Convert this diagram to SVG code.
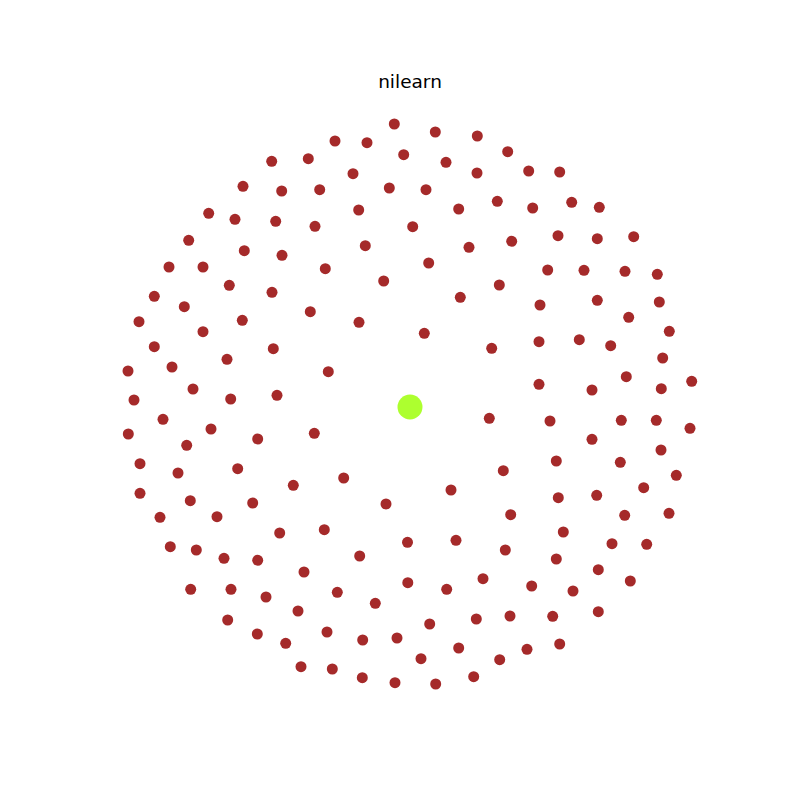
<svg xmlns="http://www.w3.org/2000/svg" width="800" height="800" viewBox="0 0 800 800">
<style>
.n{fill:#a52a2a}
.c{fill:#adff2f}
.t{font-family:"DejaVu Sans",sans-serif;font-size:18.5px;fill:#000}
</style>
<rect width="800" height="800" fill="#fff"/>
<text class="t" x="410" y="88" text-anchor="middle">nilearn</text>
<g id="connectors"></g>
<g id="nodes">
<g id="center"><circle class="c" cx="410" cy="407" r="12.5"/></g>
<g id="leaves">
<circle class="n" cx="394.3" cy="124" r="5.5"/>
<circle class="n" cx="335" cy="141" r="5.5"/>
<circle class="n" cx="367" cy="142.7" r="5.5"/>
<circle class="n" cx="403.7" cy="154.7" r="5.5"/>
<circle class="n" cx="271.7" cy="161.3" r="5.5"/>
<circle class="n" cx="308.3" cy="158.7" r="5.5"/>
<circle class="n" cx="353" cy="173.7" r="5.5"/>
<circle class="n" cx="243" cy="186.3" r="5.5"/>
<circle class="n" cx="281.7" cy="191" r="5.5"/>
<circle class="n" cx="319.7" cy="189.7" r="5.5"/>
<circle class="n" cx="389.3" cy="188" r="5.5"/>
<circle class="n" cx="208.7" cy="213.3" r="5.5"/>
<circle class="n" cx="235" cy="219.3" r="5.5"/>
<circle class="n" cx="275.7" cy="221.3" r="5.5"/>
<circle class="n" cx="315" cy="226.3" r="5.5"/>
<circle class="n" cx="358.7" cy="210" r="5.5"/>
<circle class="n" cx="412.7" cy="226.7" r="5.5"/>
<circle class="n" cx="188.7" cy="240.3" r="5.5"/>
<circle class="n" cx="244.3" cy="250.7" r="5.5"/>
<circle class="n" cx="282" cy="255.3" r="5.5"/>
<circle class="n" cx="365.3" cy="245.7" r="5.5"/>
<circle class="n" cx="169" cy="267" r="5.5"/>
<circle class="n" cx="203" cy="267" r="5.5"/>
<circle class="n" cx="325.3" cy="268.7" r="5.5"/>
<circle class="n" cx="229.3" cy="285.3" r="5.5"/>
<circle class="n" cx="272" cy="292.3" r="5.5"/>
<circle class="n" cx="383.7" cy="281" r="5.5"/>
<circle class="n" cx="154.3" cy="296.3" r="5.5"/>
<circle class="n" cx="184.3" cy="306.7" r="5.5"/>
<circle class="n" cx="310.3" cy="311.7" r="5.5"/>
<circle class="n" cx="139" cy="321.7" r="5.5"/>
<circle class="n" cx="242.3" cy="320.3" r="5.5"/>
<circle class="n" cx="359" cy="322.3" r="5.5"/>
<circle class="n" cx="203" cy="331.7" r="5.5"/>
<circle class="n" cx="154.3" cy="346.7" r="5.5"/>
<circle class="n" cx="273.3" cy="348.7" r="5.5"/>
<circle class="n" cx="227" cy="359.3" r="5.5"/>
<circle class="n" cx="128" cy="371" r="5.5"/>
<circle class="n" cx="172" cy="367" r="5.5"/>
<circle class="n" cx="328.3" cy="371.7" r="5.5"/>
<circle class="n" cx="193" cy="389" r="5.5"/>
<circle class="n" cx="134" cy="400" r="5.5"/>
<circle class="n" cx="230.7" cy="399" r="5.5"/>
<circle class="n" cx="277" cy="395.3" r="5.5"/>
<circle class="n" cx="435.3" cy="132" r="5.5"/>
<circle class="n" cx="477.3" cy="136" r="5.5"/>
<circle class="n" cx="446" cy="162.3" r="5.5"/>
<circle class="n" cx="477" cy="173" r="5.5"/>
<circle class="n" cx="507.7" cy="151.7" r="5.5"/>
<circle class="n" cx="528.7" cy="171" r="5.5"/>
<circle class="n" cx="559.7" cy="172" r="5.5"/>
<circle class="n" cx="426" cy="189.7" r="5.5"/>
<circle class="n" cx="458.7" cy="209" r="5.5"/>
<circle class="n" cx="497.3" cy="201.3" r="5.5"/>
<circle class="n" cx="532.7" cy="208" r="5.5"/>
<circle class="n" cx="571.7" cy="202.3" r="5.5"/>
<circle class="n" cx="599.3" cy="207.3" r="5.5"/>
<circle class="n" cx="469" cy="247.3" r="5.5"/>
<circle class="n" cx="511.7" cy="241.3" r="5.5"/>
<circle class="n" cx="558" cy="235.7" r="5.5"/>
<circle class="n" cx="597.3" cy="238.7" r="5.5"/>
<circle class="n" cx="633.7" cy="236.7" r="5.5"/>
<circle class="n" cx="428.7" cy="263" r="5.5"/>
<circle class="n" cx="547.7" cy="270" r="5.5"/>
<circle class="n" cx="584" cy="270.3" r="5.5"/>
<circle class="n" cx="625" cy="271.3" r="5.5"/>
<circle class="n" cx="657.3" cy="274.3" r="5.5"/>
<circle class="n" cx="499.3" cy="285" r="5.5"/>
<circle class="n" cx="460.3" cy="297.3" r="5.5"/>
<circle class="n" cx="540" cy="305" r="5.5"/>
<circle class="n" cx="597.3" cy="300.3" r="5.5"/>
<circle class="n" cx="659.3" cy="302" r="5.5"/>
<circle class="n" cx="628.7" cy="317.3" r="5.5"/>
<circle class="n" cx="669.3" cy="331.3" r="5.5"/>
<circle class="n" cx="424.3" cy="333.3" r="5.5"/>
<circle class="n" cx="491.7" cy="348.3" r="5.5"/>
<circle class="n" cx="539" cy="341.7" r="5.5"/>
<circle class="n" cx="579.3" cy="339.7" r="5.5"/>
<circle class="n" cx="610.7" cy="345.7" r="5.5"/>
<circle class="n" cx="662.7" cy="358" r="5.5"/>
<circle class="n" cx="539" cy="384.3" r="5.5"/>
<circle class="n" cx="592" cy="390" r="5.5"/>
<circle class="n" cx="626.3" cy="376.7" r="5.5"/>
<circle class="n" cx="661.3" cy="388.7" r="5.5"/>
<circle class="n" cx="691.7" cy="381.3" r="5.5"/>
<circle class="n" cx="163" cy="419.3" r="5.5"/>
<circle class="n" cx="128.3" cy="434" r="5.5"/>
<circle class="n" cx="211" cy="429" r="5.5"/>
<circle class="n" cx="186.7" cy="445.3" r="5.5"/>
<circle class="n" cx="257.7" cy="439" r="5.5"/>
<circle class="n" cx="314.3" cy="433.3" r="5.5"/>
<circle class="n" cx="140" cy="463.7" r="5.5"/>
<circle class="n" cx="178" cy="473" r="5.5"/>
<circle class="n" cx="237.7" cy="468.7" r="5.5"/>
<circle class="n" cx="293.3" cy="485.3" r="5.5"/>
<circle class="n" cx="343.7" cy="478" r="5.5"/>
<circle class="n" cx="140" cy="493.3" r="5.5"/>
<circle class="n" cx="190.3" cy="500.7" r="5.5"/>
<circle class="n" cx="252.7" cy="503" r="5.5"/>
<circle class="n" cx="386" cy="504" r="5.5"/>
<circle class="n" cx="160" cy="517.3" r="5.5"/>
<circle class="n" cx="217" cy="516.7" r="5.5"/>
<circle class="n" cx="279.7" cy="533" r="5.5"/>
<circle class="n" cx="324.3" cy="529.7" r="5.5"/>
<circle class="n" cx="407.5" cy="542.3" r="5.5"/>
<circle class="n" cx="170.3" cy="546.7" r="5.5"/>
<circle class="n" cx="196.3" cy="550" r="5.5"/>
<circle class="n" cx="224" cy="558.3" r="5.5"/>
<circle class="n" cx="257.7" cy="560.3" r="5.5"/>
<circle class="n" cx="359.7" cy="556" r="5.5"/>
<circle class="n" cx="304" cy="572" r="5.5"/>
<circle class="n" cx="407.8" cy="582.7" r="5.5"/>
<circle class="n" cx="190.7" cy="589.3" r="5.5"/>
<circle class="n" cx="231" cy="589.3" r="5.5"/>
<circle class="n" cx="266" cy="597" r="5.5"/>
<circle class="n" cx="337.3" cy="592.3" r="5.5"/>
<circle class="n" cx="298" cy="611" r="5.5"/>
<circle class="n" cx="375.3" cy="603.3" r="5.5"/>
<circle class="n" cx="227.7" cy="620" r="5.5"/>
<circle class="n" cx="257.3" cy="634" r="5.5"/>
<circle class="n" cx="285.7" cy="643.3" r="5.5"/>
<circle class="n" cx="327" cy="632" r="5.5"/>
<circle class="n" cx="362.7" cy="640" r="5.5"/>
<circle class="n" cx="397" cy="638" r="5.5"/>
<circle class="n" cx="301" cy="666.7" r="5.5"/>
<circle class="n" cx="332.3" cy="669" r="5.5"/>
<circle class="n" cx="362.3" cy="677.7" r="5.5"/>
<circle class="n" cx="395" cy="682.7" r="5.5"/>
<circle class="n" cx="489.3" cy="418.3" r="5.5"/>
<circle class="n" cx="550" cy="421" r="5.5"/>
<circle class="n" cx="621.3" cy="420.3" r="5.5"/>
<circle class="n" cx="656.3" cy="420.3" r="5.5"/>
<circle class="n" cx="690" cy="428.3" r="5.5"/>
<circle class="n" cx="592" cy="439.3" r="5.5"/>
<circle class="n" cx="661" cy="450" r="5.5"/>
<circle class="n" cx="556.3" cy="461" r="5.5"/>
<circle class="n" cx="620.3" cy="462.3" r="5.5"/>
<circle class="n" cx="503.3" cy="470.7" r="5.5"/>
<circle class="n" cx="676.3" cy="475.3" r="5.5"/>
<circle class="n" cx="451" cy="490" r="5.5"/>
<circle class="n" cx="558.3" cy="497.7" r="5.5"/>
<circle class="n" cx="596.7" cy="495.3" r="5.5"/>
<circle class="n" cx="643.7" cy="487.7" r="5.5"/>
<circle class="n" cx="510.7" cy="514.7" r="5.5"/>
<circle class="n" cx="624.7" cy="515.3" r="5.5"/>
<circle class="n" cx="669" cy="513.3" r="5.5"/>
<circle class="n" cx="563.3" cy="532" r="5.5"/>
<circle class="n" cx="456" cy="540.3" r="5.5"/>
<circle class="n" cx="505.3" cy="550" r="5.5"/>
<circle class="n" cx="612" cy="543.7" r="5.5"/>
<circle class="n" cx="646.7" cy="544.3" r="5.5"/>
<circle class="n" cx="556.3" cy="559" r="5.5"/>
<circle class="n" cx="598.3" cy="569.7" r="5.5"/>
<circle class="n" cx="446.7" cy="589.3" r="5.5"/>
<circle class="n" cx="483" cy="578.7" r="5.5"/>
<circle class="n" cx="531.7" cy="586" r="5.5"/>
<circle class="n" cx="573" cy="591" r="5.5"/>
<circle class="n" cx="630.3" cy="581" r="5.5"/>
<circle class="n" cx="429.7" cy="624" r="5.5"/>
<circle class="n" cx="476.3" cy="619" r="5.5"/>
<circle class="n" cx="510" cy="616" r="5.5"/>
<circle class="n" cx="552.7" cy="616.3" r="5.5"/>
<circle class="n" cx="598.3" cy="611.7" r="5.5"/>
<circle class="n" cx="421" cy="658.7" r="5.5"/>
<circle class="n" cx="458.7" cy="648" r="5.5"/>
<circle class="n" cx="499.7" cy="659.7" r="5.5"/>
<circle class="n" cx="527" cy="649.3" r="5.5"/>
<circle class="n" cx="559.7" cy="644" r="5.5"/>
<circle class="n" cx="435.7" cy="684" r="5.5"/>
<circle class="n" cx="473.7" cy="676.7" r="5.5"/>
</g>
</g>
</svg>
